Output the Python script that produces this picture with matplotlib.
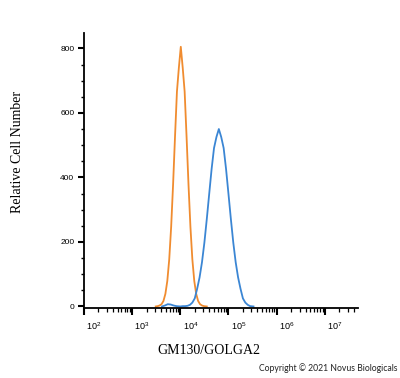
import numpy as np
import matplotlib
matplotlib.use("Agg")
import matplotlib.pyplot as plt
import matplotlib.transforms as mtransforms
from matplotlib.ticker import FixedLocator, NullFormatter

# Data (log10 of intensity, relative cell number)
orange_logx = [3.49, 3.53, 3.57, 3.61, 3.65, 3.69, 3.73, 3.77, 3.81, 3.85, 3.89, 3.93, 3.97, 4.01,
               4.05, 4.09, 4.13, 4.17, 4.21, 4.25, 4.29, 4.33, 4.37, 4.41, 4.45, 4.49, 4.55]
orange_count = [0, 1, 3, 7, 17, 39, 79, 146, 247, 378, 526, 666, 740, 805,
                740, 666, 526, 378, 247, 146, 79, 39, 17, 7, 3, 1, 0]

blue_logx = [3.62, 3.68, 3.74, 3.80, 3.86, 3.92, 4.00, 4.05, 4.10, 4.15, 4.20, 4.25, 4.30,
             4.35, 4.40, 4.45, 4.50, 4.55, 4.60, 4.65, 4.70, 4.75, 4.80, 4.85, 4.90,
             4.95, 5.00, 5.05, 5.10, 5.15, 5.20, 5.25, 5.30, 5.35, 5.40, 5.45, 5.52]
blue_count = [0, 3, 7, 6, 3, 1, 0, 1, 1, 2, 5, 12, 25,
              55, 90, 137, 198, 271, 349, 426, 491, 525, 550, 525, 491,
              426, 349, 271, 198, 137, 90, 55, 25, 12, 5, 1, 0]

y_ticks = [0, 200, 400, 600, 800]
x_decades = [2, 3, 4, 5, 6, 7]
x_label = "GM130/GOLGA2"
y_label = "Relative Cell Number"
credit = "Copyright \u00a9 2021 Novus Biologicals"

fig = plt.figure(figsize=(4.0, 3.78), dpi=100)
ax = fig.add_axes([0.21, 0.185, 0.685, 0.728])

ax.plot(np.power(10.0, orange_logx), orange_count, color="#f08c30", lw=1.3)
ax.plot(np.power(10.0, blue_logx), blue_count, color="#3b86d4", lw=1.3)

ax.set_xscale("log")
ax.set_xlim(10**2, 10**7.69)
ax.set_ylim(-5, 848)

for s in ["top", "right"]:
    ax.spines[s].set_visible(False)
for s in ["left", "bottom"]:
    ax.spines[s].set_linewidth(1.3)
    ax.spines[s].set_color("black")

# y ticks
ax.yaxis.set_major_locator(FixedLocator(y_ticks))
ax.yaxis.set_minor_locator(FixedLocator([v for v in range(0, 850, 50) if v % 200]))
ax.set_yticklabels([str(v) for v in y_ticks], fontsize=6, family="Liberation Sans")
ax.tick_params(axis="y", which="major", length=4, width=1.5, pad=3)
ax.tick_params(axis="y", which="minor", length=2.5, width=1.0)

# x ticks
ax.xaxis.set_major_locator(FixedLocator([10.0**d for d in x_decades]))
minors = [m * 10.0**d for d in range(2, 8) for m in range(2, 10) if m * 10.0**d < 10**7.69]
ax.xaxis.set_minor_locator(FixedLocator(minors))
ax.xaxis.set_minor_formatter(NullFormatter())
ax.set_xticklabels([r"$\mathregular{10^{%d}}$" % d for d in x_decades], fontsize=6.5,
                   family="Liberation Sans")
ax.tick_params(axis="x", which="major", length=5, width=1.5, pad=4)
ax.tick_params(axis="x", which="minor", length=3, width=0.9)
offset = mtransforms.ScaledTranslation(0.10, 0, fig.dpi_scale_trans)
for lab in ax.get_xticklabels():
    lab.set_transform(lab.get_transform() + offset)

fig.text(0.5225, 0.074, x_label, ha="center", va="center", fontsize=10,
         family="Liberation Serif")
fig.text(0.043, 0.599, y_label, ha="center", va="center", rotation=90, fontsize=10,
         family="Liberation Serif")

fig.text(0.993, 0.025, credit, ha="right", va="center", fontsize=6.2,
         family="Lato", color="#222222")

fig.savefig("out.png", dpi=100)
